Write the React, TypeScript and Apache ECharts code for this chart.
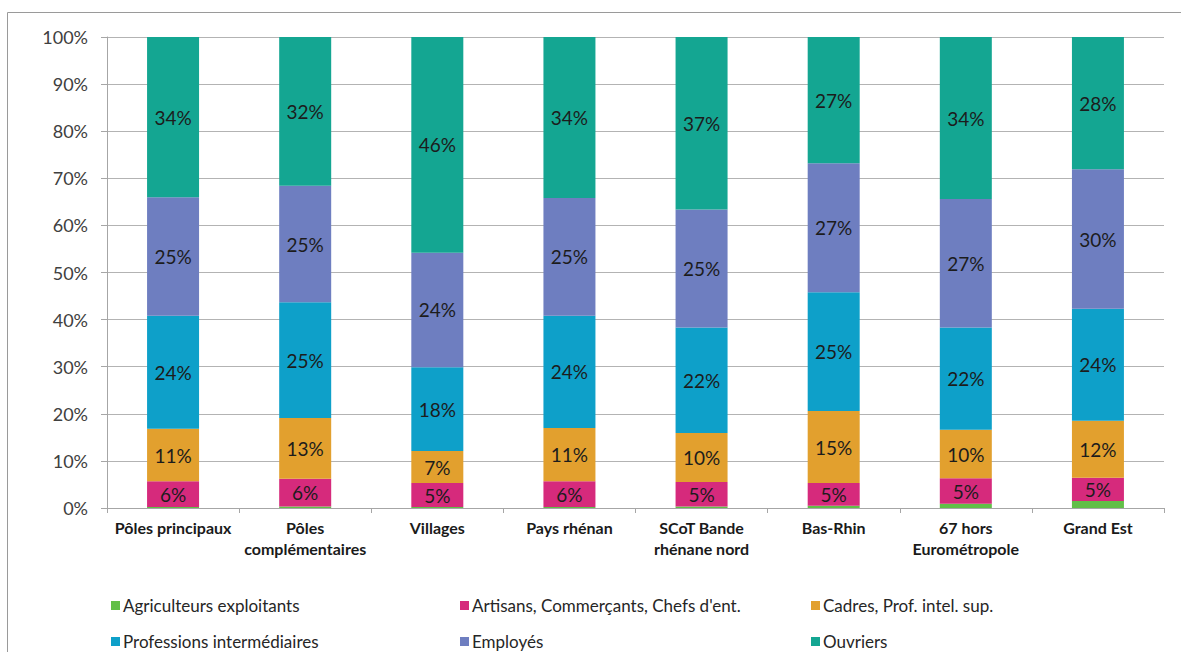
import React, { useEffect, useRef } from "react";
import * as echarts from "echarts";

const categories = [
  "Pôles principaux",
  "Pôles\ncomplémentaires",
  "Villages",
  "Pays rhénan",
  "SCoT Bande\nrhénane nord",
  "Bas-Rhin",
  "67 hors\nEurométropole",
  "Grand Est",
];

const seriesNames = [
  "Agriculteurs exploitants",
  "Artisans, Commerçants, Chefs d'ent.",
  "Cadres, Prof. intel. sup.",
  "Professions intermédiaires",
  "Employés",
  "Ouvriers",
];

const agriculteurs = [0.2, 0.3, 0.2, 0.2, 0.3, 0.5, 0.9, 1.5];
const artisans = [5.5, 5.9, 5.1, 5.5, 5.2, 4.8, 5.4, 4.9];
const cadres = [11.1, 12.9, 6.8, 11.3, 10.4, 15.3, 10.3, 12.1];
const profInter = [24.0, 24.6, 17.8, 23.8, 22.4, 25.2, 21.7, 23.8];
const employes = [25.2, 24.7, 24.3, 25.0, 25.1, 27.4, 27.3, 29.6];
const ouvriers = [34.0, 31.6, 45.8, 34.2, 36.6, 26.8, 34.4, 28.1];

const yTicks = [0, 10, 20, 30, 40, 50, 60, 70, 80, 90, 100];

const colors = ["#62bf48", "#d62a7c", "#e2a02e", "#0ea0c9", "#6e7ec0", "#14a692"];

const FONT = "Lato, 'Liberation Sans', sans-serif";

export default function App() {
  const ref = useRef<HTMLDivElement>(null);
  useEffect(() => {
    if (!ref.current) return;
    const chart = echarts.init(ref.current, undefined, { renderer: "svg" });
    const values = [agriculteurs, artisans, cadres, profInter, employes, ouvriers];
    const legendPos = [
      { left: 106, top: 592 },
      { left: 455, top: 592 },
      { left: 806, top: 592 },
      { left: 106, top: 628 },
      { left: 455, top: 628 },
      { left: 806, top: 628 },
    ];
    chart.setOption({
      animation: false,
      backgroundColor: "#ffffff",
      color: colors,
      grid: { left: 107, right: 17, top: 37, bottom: 144, containLabel: false },
      xAxis: {
        type: "category",
        data: categories,
        axisLine: { show: true, lineStyle: { color: "#a6a6a6", width: 1 } },
        axisTick: { show: true, length: 5, lineStyle: { color: "#a6a6a6" } },
        axisLabel: {
          fontFamily: FONT,
          fontWeight: "bold",
          fontSize: 16,
          color: "#1a1a1a",
          margin: 9,
          lineHeight: 21,
          interval: 0,
        },
      },
      yAxis: {
        type: "value",
        min: 0,
        max: 100,
        interval: 10,
        axisLine: { show: true, lineStyle: { color: "#a6a6a6" } },
        axisTick: { show: true, length: 6, lineStyle: { color: "#a6a6a6" } },
        splitLine: { show: true, lineStyle: { color: "#b3b3b3", width: 1 } },
        axisLabel: {
          fontFamily: FONT,
          fontSize: 18,
          color: "#404040",
          margin: 19,
          formatter: (v: number) => (yTicks.includes(v) ? v + "%" : ""),
        },
      },
      legend: seriesNames.map((n, i) => ({
        data: [n],
        left: legendPos[i].left,
        top: legendPos[i].top,
        itemWidth: 9,
        itemHeight: 9,
        itemGap: 0,
        icon: "rect",
        textStyle: { fontFamily: FONT, fontSize: 17, color: "#262626", padding: [0, 0, 0, -2] },
      })),
      graphic: [
        { type: "line", shape: { x1: 7.5, y1: 12.5, x2: 1181, y2: 12.5 }, style: { stroke: "#9a9a9a", lineWidth: 1 } },
        { type: "line", shape: { x1: 7.5, y1: 12.5, x2: 7.5, y2: 652 }, style: { stroke: "#9a9a9a", lineWidth: 1 } },
      ],
      series: seriesNames.map((n, i) => ({
        name: n,
        type: "bar",
        stack: "total",
        barWidth: 52,
        data: values[i],
        itemStyle: { color: colors[i] },
        label: {
          show: i > 0,
          position: "inside",
          fontFamily: FONT,
          fontSize: 19,
          color: "#1c1c1c",
          formatter: (p: any) => Math.round(p.value) + "%",
        },
      })),
    });
    return () => chart.dispose();
  }, []);
  return (
    <div
      ref={ref}
      style={{ position: "fixed", left: 0, top: 0, width: 1181, height: 652 }}
    />
  );
}
